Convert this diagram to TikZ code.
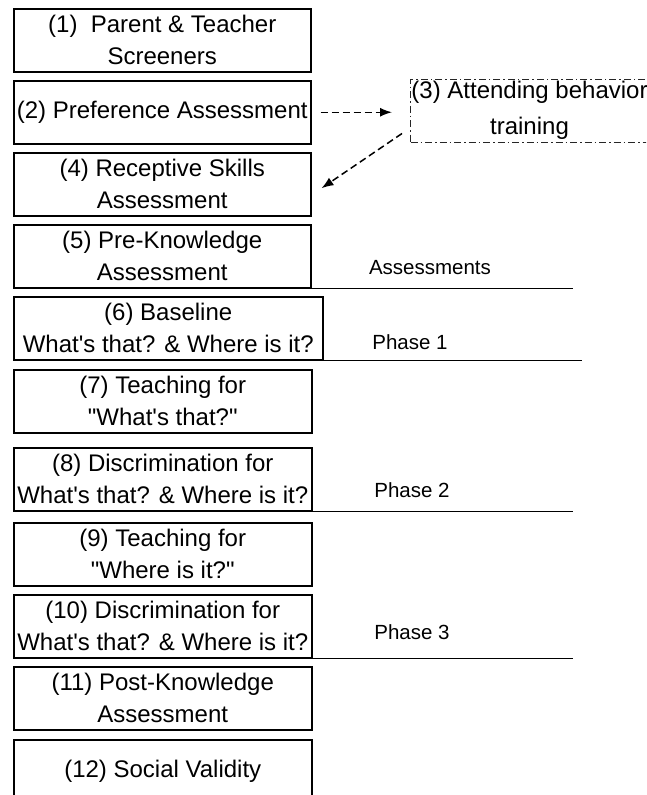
\documentclass[tikz,border=0pt]{standalone}
\usepackage{fontspec}
\setmainfont{Liberation Sans}
\usetikzlibrary{arrows.meta}
\newcommand{\sq}{\textquotesingle}
\newcommand{\dq}{\textquotedbl}
\tikzset{
        treenode/.style = {align=center, inner sep=0pt, text centered,
            font=\fontsize{24}{32}\selectfont},
        box_n/.style = {treenode, rectangle, black, draw=black, line width=1.5pt,
            anchor=north west, minimum width=297pt, minimum height=63pt},
        box_d/.style = {treenode, rectangle, draw=black!85, line width=1pt,
            dash pattern=on 7pt off 3pt on 1.5pt off 3pt,
            minimum width=238pt, minimum height=63pt, font=\fontsize{24}{36}\selectfont},
        lbl_p/.style = {treenode, font=\fontsize{20.5}{24}\selectfont},
        flow/.style = {->, dash pattern=on 7pt off 4pt, line width=1.5pt},
        sep_l/.style = {line width=1.5pt}
    }
\begin{document}
\begin{tikzpicture}[x=1pt, y=-1pt, >={Latex[length=12pt,width=9pt]}]
            \path [use as bounding box, clip] (0,0) rectangle (646,795);
            % assessments
            \node [box_n] (n1) at (13,8) {(1)\ \ Parent \& Teacher\\Screeners};
            \node [box_n] (n2) at (13,80) {(2) Preference Assessment};
            \node [box_d, anchor=west] (n3) at (410,110.5) {(3) Attending behavior\\training};
            \node [box_n] (n4) at (13,152) {(4) Receptive Skills\\Assessment};
            \node [box_n] (n5) at (13,224) {(5) Pre-Knowledge\\Assessment};
            % phases
            \node [box_n, minimum width=309pt] (n6) at (13,296) {(6) Baseline\\What\sq s that? \& Where is it?};
            \node [box_n, minimum width=298pt] (n7) at (13,369) {(7) Teaching for\\\dq What\sq s that?\dq};
            \node [box_n, minimum width=298pt] (n8) at (13,447) {(8) Discrimination for\\What\sq s that? \& Where is it?};
            \node [box_n, minimum width=298pt] (n9) at (13,522) {(9) Teaching for\\\dq Where is it?\dq};
            \node [box_n, minimum width=298pt] (n10) at (13,594) {(10) Discrimination for\\What\sq s that? \& Where is it?};
            \node [box_n, minimum width=298pt] (n11) at (13,666) {(11) Post-Knowledge\\Assessment};
            \node [box_n, minimum width=298pt] (n12) at (13,739) {(12) Social Validity};
            % labels
            \node [lbl_p] (la) at (430,268) {Assessments};
            \node [lbl_p] (lp1) at (410,342) {Phase 1};
            \node [lbl_p] (lp2) at (412,490) {Phase 2};
            \node [lbl_p] (lp3) at (412,632) {Phase 3};
            \coordinate (ea) at (573,0);
            \coordinate (eb) at (582,0);
            \draw [sep_l] (n5.south east) -- (n5.south east -| ea);
            \draw [sep_l] (n6.south east) -- (n6.south east -| eb);
            \draw [sep_l] (n8.south east) -- (n8.south east -| ea);
            \draw [sep_l] (n10.south east) -- (n10.south east -| ea);
            % side training
            \draw [flow, shorten <=9pt, shorten >=18pt] (n2.east) -- (n2.east -| n3.west);
            \draw [flow] ([shift={(-8,-9)}]n3.south west) -- ([shift={(10,4)}]n4.east);
        \end{tikzpicture}
\end{document}
